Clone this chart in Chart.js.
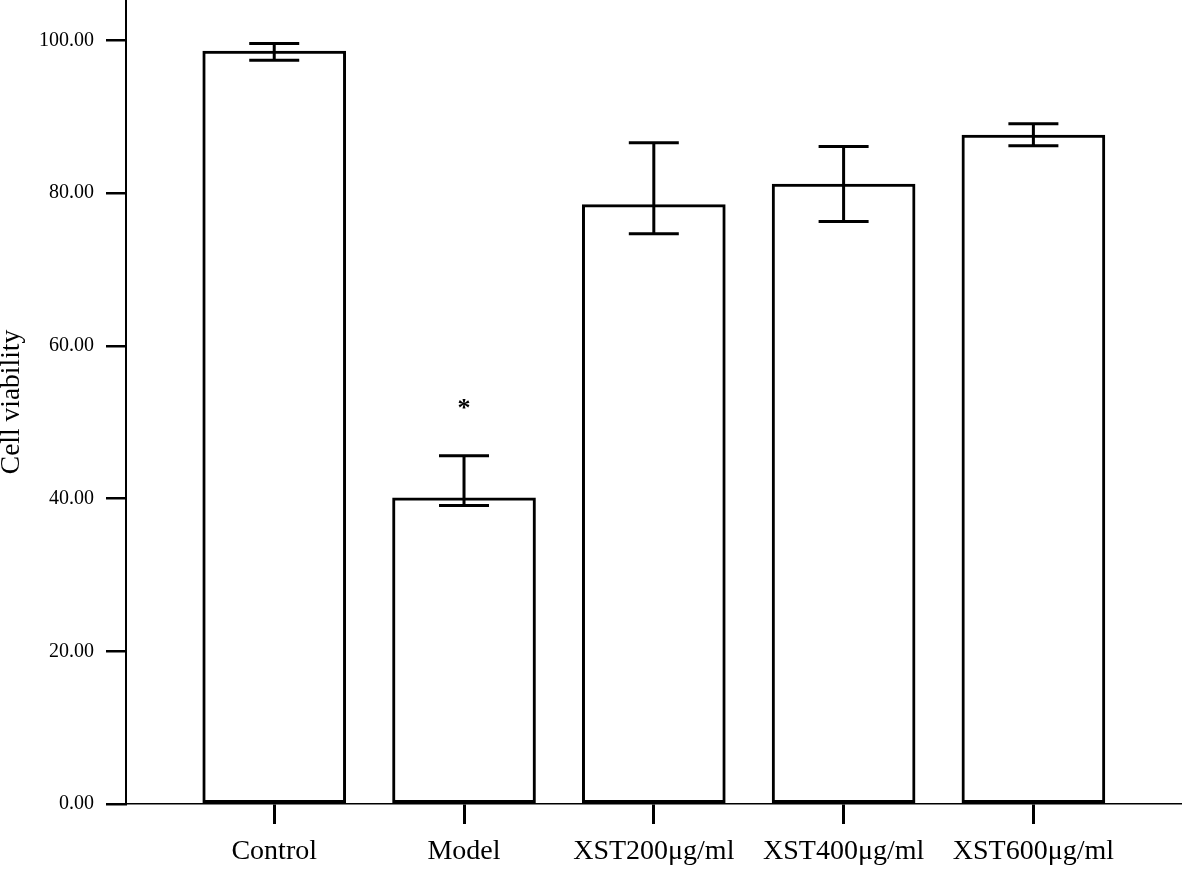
<!DOCTYPE html>
<html>
<head>
<meta charset="utf-8">
<script src="https://cdn.jsdelivr.net/npm/chart.js@4.4.0/dist/chart.umd.min.js"></script>
<style>
  html, body { margin: 0; padding: 0; background: #ffffff; }
  #wrap { width: 1182px; height: 870px; }
</style>
</head>
<body>
<div id="wrap"><canvas id="c" width="1182" height="870"></canvas></div>
<script>
const categories = ['Control', 'Model', 'XST200\u03bcg/ml', 'XST400\u03bcg/ml', 'XST600\u03bcg/ml'];
const means = [98.6, 40.1, 78.5, 81.2, 87.6];
const errLow = [97.4, 39.1, 74.7, 76.3, 86.2];
const errHigh = [99.6, 45.6, 86.6, 86.1, 89.1];
const sigMarks = ['', '*', '', '', ''];
const sigValues = [null, 52.4, null, null, null];
const yTicks = [0, 20, 40, 60, 80, 100];
const yTitle = 'Cell viability';

const errorBarPlugin = {
  id: 'errorBars',
  afterDatasetsDraw(chart) {
    const ctx = chart.ctx;
    const xs = chart.scales.x, ys = chart.scales.y;
    ctx.save();
    ctx.strokeStyle = '#000';
    ctx.lineWidth = 3;
    ctx.lineCap = 'butt';
    for (let i = 0; i < means.length; i++) {
      const px = xs.getPixelForValue(i);
      const yl = ys.getPixelForValue(errLow[i]);
      const yh = ys.getPixelForValue(errHigh[i]);
      ctx.beginPath();
      ctx.moveTo(px, yl); ctx.lineTo(px, yh);
      ctx.moveTo(px - 25, yh); ctx.lineTo(px + 25, yh);
      ctx.moveTo(px - 25, yl); ctx.lineTo(px + 25, yl);
      ctx.stroke();
    }
    ctx.fillStyle = '#000';
    ctx.font = 'bold 26px "Liberation Serif"';
    ctx.textAlign = 'center';
    ctx.textBaseline = 'alphabetic';
    for (let i = 0; i < sigMarks.length; i++) {
      if (!sigMarks[i] || sigValues[i] == null) continue;
      const px = xs.getPixelForValue(i);
      const py = ys.getPixelForValue(sigValues[i]);
      const m = ctx.measureText(sigMarks[i]);
      const off = (m.actualBoundingBoxAscent - m.actualBoundingBoxDescent) / 2;
      ctx.fillText(sigMarks[i], px, py + off);
    }
    ctx.restore();
  }
};

new Chart(document.getElementById('c'), {
  type: 'bar',
  data: {
    datasets: [{
      data: means.map((m, i) => ({ x: i, y: m })),
      backgroundColor: '#ffffff',
      borderColor: '#000000',
      borderWidth: 3,
      borderSkipped: false,
      barThickness: 143
    }]
  },
  options: {
    responsive: false,
    animation: false,
    devicePixelRatio: 1,
    layout: { padding: 0 },
    plugins: { legend: { display: false }, tooltip: { enabled: false } },
    scales: {
      x: {
        type: 'linear',
        offset: false,
        min: -0.781,
        max: 4.783,
        afterBuildTicks(scale) { scale.ticks = categories.map((c, i) => ({ value: i })); },
        afterFit(scale) {
          scale.height = 66;
          scale.paddingLeft = 0; scale.paddingRight = 0;
          scale.paddingTop = 0; scale.paddingBottom = 0;
        },
        ticks: {
          callback: (v) => categories[v],
          color: '#000',
          font: { family: 'Liberation Serif', size: 28 },
          padding: 11,
          maxRotation: 0,
          autoSkip: false
        },
        grid: { offset: false, drawOnChartArea: false, drawTicks: true, tickLength: 20, color: '#000', lineWidth: 3 },
        border: { display: true, color: '#000', width: 1.5 }
      },
      y: {
        min: 0,
        max: 105.3,
        afterBuildTicks(scale) { scale.ticks = yTicks.map(v => ({ value: v })); },
        afterFit(scale) {
          scale.width = 126;
          scale.paddingLeft = 0; scale.paddingRight = 0;
          scale.paddingTop = 0; scale.paddingBottom = 0;
        },
        ticks: {
          callback: (v) => Number(v).toFixed(2),
          color: '#000',
          font: { family: 'Liberation Serif', size: 20 },
          padding: 12
        },
        grid: { drawOnChartArea: false, drawTicks: true, tickLength: 20, color: '#000', lineWidth: 2.5 },
        border: { display: true, color: '#000', width: 2 },
        title: {
          display: true,
          text: yTitle,
          color: '#000',
          font: { family: 'Liberation Serif', size: 27.5, lineHeight: 1 },
          padding: { top: -2, bottom: 0 }
        }
      }
    }
  },
  plugins: [errorBarPlugin]
});
</script>
</body>
</html>
